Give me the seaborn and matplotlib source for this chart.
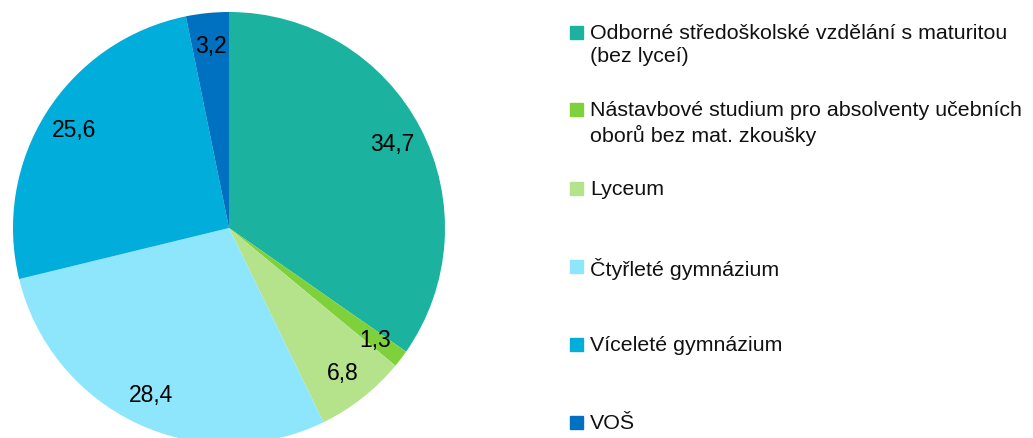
import matplotlib
matplotlib.use("Agg")
import matplotlib.pyplot as plt
import matplotlib.patches as mpatches
import seaborn as sns

# data
categories = [
    "Odborné středoškolské vzdělání s maturitou\n(bez lyceí)",
    "Nástavbové studium pro absolventy učebních\noborů bez mat. zkoušky",
    "Lyceum",
    "Čtyřleté gymnázium",
    "Víceleté gymnázium",
    "VOŠ",
]
values = [34.7, 1.3, 6.8, 28.4, 25.6, 3.2]
colors = ["#1BB39F", "#7FD13B", "#B5E38C", "#8EE6FC", "#00ADDB", "#0070C0"]

sns.set_theme(style="white")
plt.rcParams["font.family"] = ["Liberation Sans", "DejaVu Sans"]

fig = plt.figure(figsize=(10.33, 4.39), dpi=100)
W, H = 1033, 439

# pie axes placed in pixel terms: centre (229, 229), radius 216
ax = fig.add_axes([13 / W, (H - 445) / H, 432 / W, 432 / H])
palette = sns.color_palette(colors)
wedges, texts, autotexts = ax.pie(
    values,
    colors=palette,
    startangle=90,
    counterclock=False,
    autopct=lambda p: f"{p:.1f}".replace(".", ","),
    pctdistance=0.85,
    wedgeprops={"linewidth": 0},
    textprops={"fontsize": 16.5, "color": "black"},
)
ax.set_aspect("equal")
ax.set_xlim(-1, 1)
ax.set_ylim(-1, 1)

# legend drawn as squares + text at the reference slot heights
legend_y = [33, 110, 189, 267, 345, 423]
for lab, col, yy in zip(categories, palette, legend_y):
    fy = 1 - yy / H
    fig.patches.append(mpatches.Rectangle((570 / W, fy - 6.5 / H), 13 / W, 13 / H,
                                          transform=fig.transFigure, color=col))
    fig.text(590 / W, fy + 9 / H, lab, fontsize=15.4, va="top", ha="left",
             linespacing=1.3, color="#111111")

fig.savefig("out.png", dpi=100)
